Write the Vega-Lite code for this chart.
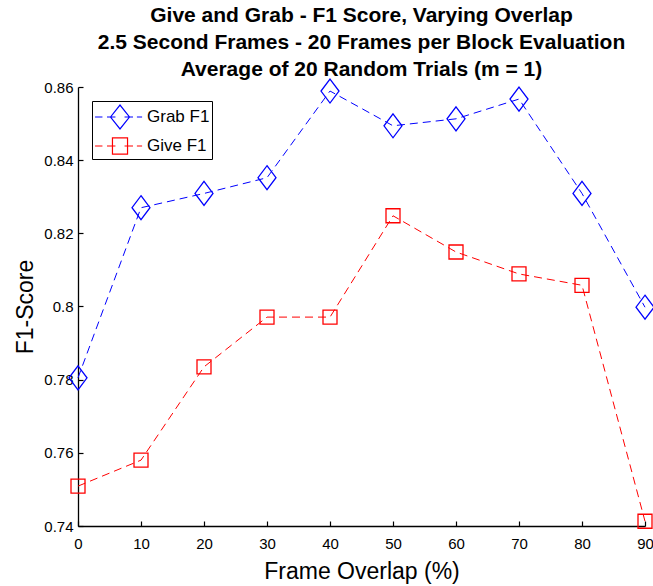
{
  "$schema": "https://vega.github.io/schema/vega-lite/v6.json",
  "width": 567,
  "height": 439,
  "autosize": {"type": "none"},
  "padding": {"left": 78, "top": 87, "right": 8, "bottom": 60},
  "background": "white",
  "title": {
    "text": ["Give and Grab - F1 Score, Varying Overlap", "2.5 Second Frames - 20 Frames per Block Evaluation", "Average of 20 Random Trials (m = 1)"],
    "font": "Liberation Sans",
    "fontSize": 21,
    "fontWeight": "bold",
    "lineHeight": 27,
    "anchor": "middle",
    "offset": -4,
    "color": "black"
  },
  "config": {
    "view": {"stroke": null},
    "axis": {
      "labelFont": "Liberation Sans",
      "titleFont": "Liberation Sans",
      "labelFontSize": 15,
      "titleFontSize": 23,
      "titleFontWeight": "normal",
      "labelColor": "black",
      "titleColor": "black",
      "domainColor": "black",
      "tickColor": "black",
      "domainWidth": 1.3,
      "tickWidth": 1.2,
      "tickSize": -5,
      "grid": false
    }
  },
  "data": {
    "values": [
      {"overlap": 0, "series": "Grab F1", "f1": 0.7805},
      {"overlap": 10, "series": "Grab F1", "f1": 0.827},
      {"overlap": 20, "series": "Grab F1", "f1": 0.8309},
      {"overlap": 30, "series": "Grab F1", "f1": 0.8352},
      {"overlap": 40, "series": "Grab F1", "f1": 0.8589},
      {"overlap": 50, "series": "Grab F1", "f1": 0.8494},
      {"overlap": 60, "series": "Grab F1", "f1": 0.8513},
      {"overlap": 70, "series": "Grab F1", "f1": 0.8567},
      {"overlap": 80, "series": "Grab F1", "f1": 0.8309},
      {"overlap": 90, "series": "Grab F1", "f1": 0.7998},
      {"overlap": 0, "series": "Give F1", "f1": 0.7509},
      {"overlap": 10, "series": "Give F1", "f1": 0.758},
      {"overlap": 20, "series": "Give F1", "f1": 0.7835},
      {"overlap": 30, "series": "Give F1", "f1": 0.7971},
      {"overlap": 40, "series": "Give F1", "f1": 0.7971},
      {"overlap": 50, "series": "Give F1", "f1": 0.8248},
      {"overlap": 60, "series": "Give F1", "f1": 0.8149},
      {"overlap": 70, "series": "Give F1", "f1": 0.8089},
      {"overlap": 80, "series": "Give F1", "f1": 0.8058},
      {"overlap": 90, "series": "Give F1", "f1": 0.7413}
    ]
  },
  "encoding": {
    "x": {
      "field": "overlap",
      "type": "quantitative",
      "scale": {"domain": [0, 90], "nice": false, "zero": false},
      "axis": {"values": [0, 10, 20, 30, 40, 50, 60, 70, 80, 90], "title": "Frame Overlap (%)", "labelPadding": 15, "titlePadding": 9, "labelFlush": false}
    },
    "y": {
      "field": "f1",
      "type": "quantitative",
      "scale": {"domain": [0.74, 0.86], "nice": false, "zero": false},
      "axis": {"values": [0.74, 0.76, 0.78, 0.8, 0.82, 0.84, 0.86], "format": ".2~f", "title": "F1-Score", "labelPadding": 10, "titlePadding": 6, "labelFlush": false}
    }
  },
  "layer": [
    {
      "mark": {"type": "line", "strokeWidth": 1, "strokeDash": [8, 5], "clip": false},
      "encoding": {
        "color": {
          "field": "series",
          "type": "nominal",
          "scale": {"domain": ["Grab F1", "Give F1"], "range": ["#0000ff", "#ff0000"]},
          "legend": {
            "orient": "none",
            "legendX": 14,
            "legendY": 14,
            "title": null,
            "strokeColor": "black",
            "fillColor": "white",
            "padding": 2,
            "rowPadding": 0,
            "symbolSize": 676,
            "symbolOffset": 12,
            "labelOffset": 13,
            "labelFont": "Liberation Sans",
            "labelFontSize": 17,
            "labelColor": "black",
            "symbolStrokeWidth": 1.2,
            "encode": {
              "symbols": {
                "update": {
                  "shape": {"signal": "datum.value === 'Grab F1' ? 'M-1.92,0L-1.35,0M-1.0,0L-0.35,0M0.35,0L1.0,0M1.3,0L1.7,0M-0.73,0L0,-0.92L0.73,0L0,0.92Z' : 'M-1.92,0L-1.35,0M-1.0,0L-0.35,0M0.35,0L1.0,0M1.3,0L1.7,0M-0.58,-0.62L0.58,-0.62L0.58,0.62L-0.58,0.62Z'"},
                  "fill": {"value": "transparent"},
                  "strokeDash": {"value": []}
                }
              }
            }
          }
        }
      }
    },
    {
      "transform": [{"filter": "datum.series === 'Grab F1'"}],
      "mark": {"type": "point", "filled": false, "strokeWidth": 1.3, "clip": false, "opacity": 1, "stroke": "#0000ff", "shape": "M0,-1L0.75,0L0,1L-0.75,0Z", "size": 576}
    },
    {
      "transform": [{"filter": "datum.series === 'Give F1'"}],
      "mark": {"type": "point", "filled": false, "strokeWidth": 1.3, "clip": false, "opacity": 1, "stroke": "#ff0000", "shape": "square", "size": 196}
    }
  ]
}
